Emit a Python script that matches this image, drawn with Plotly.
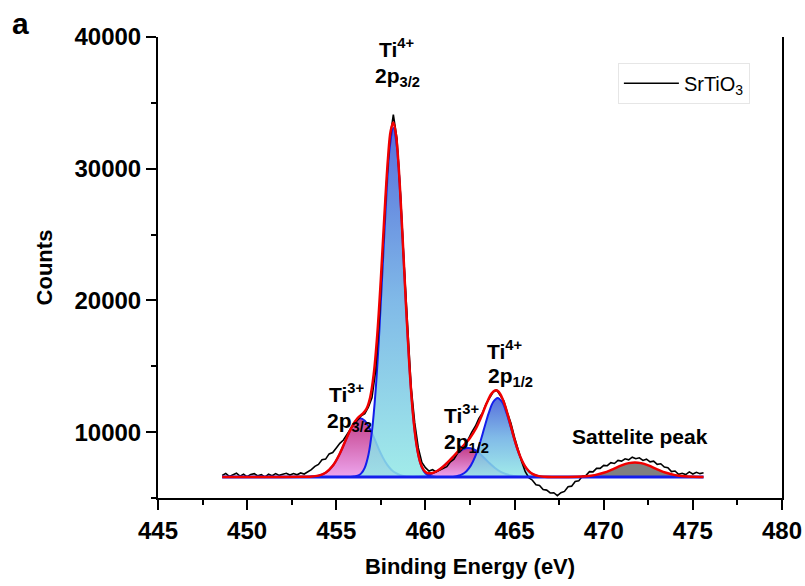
import plotly.graph_objects as go

# ---------------- data ----------------
data_energy = [
    448.6, 448.8, 449.0, 449.2, 449.4, 449.6, 449.8, 450.0, 450.2, 450.4,
    450.6, 450.8, 451.0, 451.2, 451.4, 451.6, 451.8, 452.0, 452.2, 452.4,
    452.6, 452.8, 453.0, 453.2, 453.4, 453.6, 453.8, 454.0, 454.2, 454.4,
    454.6, 454.8, 455.0, 455.2, 455.4, 455.6, 455.8, 456.0, 456.2, 456.4,
    456.6, 456.8, 457.0, 457.2, 457.4, 457.6, 457.8, 458.0, 458.2, 458.4,
    458.6, 458.8, 459.0, 459.2, 459.4, 459.6, 459.8, 460.0, 460.2, 460.4,
    460.6, 460.8, 461.0, 461.2, 461.4, 461.6, 461.8, 462.0, 462.2, 462.4,
    462.6, 462.8, 463.0, 463.2, 463.4, 463.6, 463.8, 464.0, 464.2, 464.4,
    464.6, 464.8, 465.0, 465.2, 465.4, 465.6, 465.8, 466.0, 466.2, 466.4,
    466.6, 466.8, 467.0, 467.2, 467.4, 467.6, 467.8, 468.0, 468.2, 468.4,
    468.6, 468.8, 469.0, 469.2, 469.4, 469.6, 469.8, 470.0, 470.2, 470.4,
    470.6, 470.8, 471.0, 471.2, 471.4, 471.6, 471.8, 472.0, 472.2, 472.4,
    472.6, 472.8, 473.0, 473.2, 473.4, 473.6, 473.8, 474.0, 474.2, 474.4,
    474.6, 474.8, 475.0, 475.2, 475.4, 475.6,
]
data_counts = [
    6720, 6860, 6640, 6780, 6880, 6660, 6800, 6610, 6790, 6850,
    6680, 6770, 6580, 6800, 6690, 6850, 6720, 6800, 6880, 6740,
    6860, 6760, 6900, 6820, 7000, 7150, 7400, 7550, 7900, 7950,
    8350, 8450, 8800, 9150, 9400, 9850, 10250, 10600, 10900, 11250,
    11400, 11900, 12600, 14600, 18300, 23400, 28600, 32200, 34100, 32300,
    28100, 22800, 17600, 13400, 10700, 8800, 7700, 7300, 7050, 7150,
    6980, 7120, 7250, 7380, 7750, 7950, 8400, 8600, 9100, 9450,
    10000, 10450, 11050, 11450, 12150, 12550, 13050, 13200, 12750, 12350,
    11450, 10650, 9600, 8600, 7750, 7000, 6550, 6350, 6000, 5950,
    5650, 5600, 5380, 5400, 5180, 5400, 5500, 5850, 5900, 6250,
    6300, 6650, 6700, 7000, 6980, 7250, 7250, 7480, 7450, 7680,
    7620, 7850, 7800, 7980, 7900, 8100, 7980, 8050, 7850, 7950,
    7750, 7800, 7550, 7600, 7350, 7300, 7000, 7050, 6800, 6880,
    6780, 6980, 6820, 6950, 6850, 6920,
]

env_energy = [
    448.6, 452.0, 453.0, 453.5, 454.0, 454.4, 454.8, 455.2, 455.6, 455.9,
    456.2, 456.5, 456.7, 456.9, 457.1, 457.3, 457.5, 457.7, 457.9, 458.05,
    458.2, 458.35, 458.5, 458.7, 458.9, 459.1, 459.3, 459.5, 459.7, 459.9,
    460.1, 460.4, 460.7, 461.0, 461.3, 461.6, 461.9, 462.2, 462.5, 462.8,
    463.1, 463.4, 463.7, 463.9, 464.05, 464.2, 464.4, 464.6, 464.8, 465.0,
    465.2, 465.4, 465.6, 465.8, 466.0, 466.3, 466.7, 467.2, 468.0, 468.5,
    469.0, 469.5, 470.0, 470.5, 471.0, 471.4, 471.75, 472.1, 472.5, 473.0,
    473.5, 474.0, 474.5, 475.0, 475.6,
]
env_counts = [
    6600, 6600, 6605, 6615, 6697, 6919, 7442, 8380, 9613, 10482,
    11073, 11425, 11787, 12635, 14399, 17408, 21630, 26461, 30775, 32870,
    33515, 32548, 30114, 25300, 19895, 15045, 11407, 9054, 7747, 7127,
    6898, 6899, 7087, 7390, 7776, 8208, 8645, 9075, 9557, 10199,
    11074, 12083, 12910, 13163, 13128, 12889, 12274, 11406, 10416, 9436,
    8571, 7881, 7378, 7042, 6834, 6681, 6615, 6600, 6603, 6614,
    6649, 6738, 6913, 7179, 7473, 7646, 7700, 7646, 7473, 7179,
    6913, 6738, 6649, 6614, 6602,
]

bg_energy = [448.6, 475.6]
bg_counts = [6600, 6600]

ti4_32_energy = [455.8, 456.0, 456.2, 456.4, 456.6, 456.8, 457.0, 457.2, 457.4, 457.6,
                 457.8, 458.0, 458.2, 458.4, 458.6, 458.8, 459.0, 459.2, 459.4, 459.6,
                 459.8, 460.0, 460.2, 460.4, 460.6]
ti4_32_counts = [6600, 6630, 6690, 6870, 7310, 8260, 10060, 13040, 17320, 22530,
                 27730, 31640, 33100, 31640, 27730, 22530, 17320, 13040, 10060, 8260,
                 7310, 6870, 6690, 6630, 6600]

ti3_32_energy = [453.35, 453.6, 453.85, 454.1, 454.35, 454.6, 454.85, 455.1, 455.35, 455.6,
                 455.85, 456.1, 456.35, 456.6, 456.85, 457.1, 457.35, 457.6, 457.85, 458.1,
                 458.35, 458.6, 458.85, 459.1, 459.35]
ti3_32_counts = [6600, 6625, 6660, 6730, 6880, 7130, 7535, 8105, 8825, 9615,
                 10340, 10860, 11050, 10860, 10340, 9615, 8825, 8105, 7535, 7130,
                 6880, 6730, 6660, 6625, 6600]

ti3_12_energy = [459.1, 459.4, 459.7, 460.0, 460.3, 460.6, 460.9, 461.2, 461.5, 461.8,
                 462.1, 462.4, 462.7, 463.0, 463.3, 463.6, 463.9, 464.2, 464.5, 464.8,
                 465.1, 465.4, 465.7]
ti3_12_counts = [6600, 6620, 6648, 6708, 6818, 7003, 7277, 7634, 8039, 8422,
                 8699, 8800, 8699, 8422, 8039, 7634, 7277, 7003, 6818, 6708,
                 6648, 6620, 6600]

ti4_12_energy = [461.55, 461.8, 462.05, 462.3, 462.55, 462.8, 463.05, 463.3, 463.55, 463.8,
                 464.05, 464.3, 464.55, 464.8, 465.05, 465.3, 465.55, 465.8, 466.05, 466.3,
                 466.55]
ti4_12_counts = [6600, 6679, 6796, 7037, 7475, 8176, 9150, 10308, 11445, 12287,
                 12600, 12287, 11445, 10308, 9150, 8176, 7475, 7037, 6796, 6679,
                 6600]

sat_energy = [468.25, 468.75, 469.25, 469.75, 470.25, 470.75, 471.25, 471.75, 472.25, 472.75,
              473.25, 473.75, 474.25, 474.75, 475.25]
sat_counts = [6600, 6627, 6685, 6813, 7037, 7330, 7593, 7700, 7593, 7330,
              7037, 6813, 6685, 6627, 6600]

x_ticks = [445, 450, 455, 460, 465, 470, 475, 480]
y_ticks = [10000, 20000, 30000, 40000]
y_tick_text = ["10000", "20000", "30000", "40000"]

# ---------------- styles ----------------
FONT = "Liberation Sans, Arial, sans-serif"
BLUE = "rgb(20,30,235)"
ti4_scale = [[0, "rgba(146,232,230,0.86)"], [0.5, "rgba(108,175,228,0.86)"],
             [1, "rgba(60,88,214,0.86)"]]
ti3_scale = [[0, "rgba(236,160,236,0.95)"], [1, "rgba(192,52,130,0.95)"]]

fig = go.Figure()

def component(xs, ys, scale):
    fig.add_trace(go.Scatter(
        x=xs, y=ys, mode="lines", fill="toself",
        fillgradient=dict(type="vertical", colorscale=scale),
        line=dict(color=BLUE, width=2, shape="spline"),
        showlegend=False, hoverinfo="skip"))

component(ti3_32_energy, ti3_32_counts, ti3_scale)
component(ti3_12_energy, ti3_12_counts, ti3_scale)
component(ti4_32_energy, ti4_32_counts, ti4_scale)
component(ti4_12_energy, ti4_12_counts, ti4_scale)

fig.add_trace(go.Scatter(
    x=sat_energy, y=sat_counts, mode="lines", fill="toself",
    fillcolor="rgb(128,128,128)", line=dict(color="rgb(128,128,128)", width=1, shape="spline"),
    showlegend=False, hoverinfo="skip"))

fig.add_trace(go.Scatter(
    x=data_energy, y=data_counts, mode="lines", name="SrTiO<sub>3</sub>",
    line=dict(color="black", width=1.6), showlegend=True))

fig.add_trace(go.Scatter(
    x=bg_energy, y=bg_counts, mode="lines",
    line=dict(color=BLUE, width=3), showlegend=False, hoverinfo="skip"))

fig.add_trace(go.Scatter(
    x=env_energy, y=env_counts, mode="lines",
    line=dict(color="rgb(240,0,0)", width=2.5, shape="spline"),
    showlegend=False, hoverinfo="skip"))

# ---------------- labels ----------------
labels = [
    ("Ti<sup>4+</sup>", 458.4, 39200),
    ("2p<sub>3/2</sub>", 458.45, 37000),
    ("Ti<sup>3+</sup>", 455.55, 13000),
    ("2p<sub>3/2</sub>", 455.75, 10800),
    ("Ti<sup>3+</sup>", 462.05, 11350),
    ("2p<sub>1/2</sub>", 462.3, 9200),
    ("Ti<sup>4+</sup>", 464.45, 16250),
    ("2p<sub>1/2</sub>", 464.75, 14200),
]
annotations = []
for txt, xx, yy in labels:
    annotations.append(dict(x=xx, y=yy, xref="x", yref="y", text=txt, showarrow=False,
                            font=dict(family=FONT, size=21, color="black", weight="bold"),
                            xanchor="center", yanchor="middle"))
annotations.append(dict(x=472.05, y=9700, xref="x", yref="y", text="Sattelite peak",
                        showarrow=False,
                        font=dict(family=FONT, size=21, color="black", weight="bold"),
                        xanchor="center", yanchor="middle"))
annotations.append(dict(x=-0.221, y=1.03, xref="paper", yref="paper", text="a",
                        showarrow=False,
                        font=dict(family=FONT, size=30, color="black", weight="bold"),
                        xanchor="center", yanchor="middle"))

axis_common = dict(
    showline=True, linecolor="black", linewidth=2, automargin=False,
    ticks="outside", ticklen=10, tickwidth=2, tickcolor="black",
    showgrid=False, zeroline=False,
    tickfont=dict(family=FONT, size=24, color="black", weight="bold"),
)

fig.update_layout(
    width=805, height=586,
    margin=dict(l=158, r=23, t=37, b=88),
    plot_bgcolor="white", paper_bgcolor="white",
    annotations=annotations,
    xaxis=dict(range=[445, 480], tickvals=x_ticks,
               minor=dict(dtick=2.5, tick0=445, ticks="outside", ticklen=5, tickwidth=2,
                          tickcolor="black"),
               title=dict(text="Binding Energy (eV)", standoff=16,
                          font=dict(family=FONT, size=22, color="black", weight="bold")),
               **axis_common),
    yaxis=dict(range=[5000, 40000], tickvals=y_ticks, ticktext=y_tick_text, mirror=True,
               minor=dict(dtick=5000, tick0=0, ticks="outside", ticklen=5, tickwidth=2,
                          tickcolor="black"),
               title=dict(text="Counts", standoff=16,
                          font=dict(family=FONT, size=22, color="black", weight="bold")),
               **axis_common),
    legend=dict(x=0.737, y=0.944, xanchor="left", yanchor="top",
                bgcolor="rgba(255,255,255,0)", bordercolor="#e6e6e6", borderwidth=1,
                font=dict(family=FONT, size=20, color="black"), itemwidth=55),
)

# remove the default 8 px page margin so the figure fills the window exactly
fig.write_html("out.html", config={"displayModeBar": False},
               post_script="document.body.style.margin='0px';")
